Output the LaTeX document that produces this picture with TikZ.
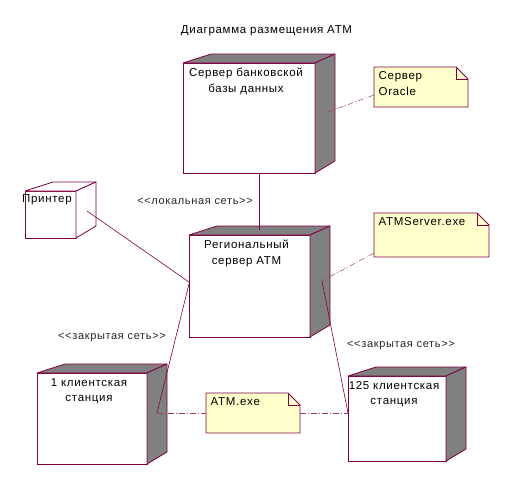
\documentclass[tikz,border=0pt]{standalone}
\usepackage{fontspec}
\setmainfont{Liberation Sans}[LetterSpace=6.0,Ligatures=TeXOff]
\usepackage{tikz}
\usetikzlibrary{calc,arrows.meta}
\definecolor{rosered}{RGB}{128,0,64}
\definecolor{rosegray}{RGB}{128,128,128}
\definecolor{noteyellow}{RGB}{255,255,204}

% top and side faces of a node box (gray unless told otherwise)
\newcommand{\boxfaces}[2][rosegray]{%
  \filldraw[fill=#1,draw=rosered,line width=0.8pt,line join=round]
    (#2.north west) -- ++(28,-9) -- ($(#2.north east)+(20,-9)$) -- (#2.north east) -- cycle;
  \filldraw[fill=#1,draw=rosered,line width=0.8pt,line join=round]
    (#2.north east) -- ++(20,-9) -- ($(#2.south east)+(20,-12)$) -- (#2.south east) -- cycle;
}
% note with folded corner
\newcommand{\notefold}[1]{%
  \filldraw[fill=noteyellow,draw=rosered,line width=0.8pt]
    (#1.north west) -- ($(#1.north east)+(-12,0)$) -- ($(#1.north east)+(0,12)$)
    -- (#1.south east) -- (#1.south west) -- cycle;
  \draw[rosered,line width=0.6pt] ($(#1.north east)+(-12,0)$) |- ($(#1.north east)+(0,12)$);
}

\begin{document}
\begin{tikzpicture}[x=1pt,y=-1pt,>=Stealth,
    nodebox/.style={draw=rosered,line width=1pt,fill=white,inner sep=0pt,outer sep=0pt},
    nodetext/.style={anchor=north,align=center,inner sep=5pt,xshift=-3pt,
      font=\fontsize{11.5}{15.5}\selectfont},
    notebox/.style={inner sep=0pt,outer sep=0pt},
    notetext/.style={anchor=north west,align=left,inner sep=4.5pt,
      font=\fontsize{11.5}{15.5}\selectfont},
    netlabel/.style={anchor=base,inner sep=0pt,text=black!85,font=\fontsize{11}{13}\selectfont},
    link/.style={rosered,line width=0.6pt},
    notelink/.style={rosered!75,line width=0.5pt,dash pattern=on 6pt off 2pt on 1pt off 2pt}]
    \useasboundingbox (0,0) rectangle (515,488);

    % Title
    \node[anchor=base,inner sep=0pt,font=\fontsize{11.5}{14}\selectfont] (title) at (266.5,33)
      {Диаграмма размещения ATM};

    % Nodes
    \node[nodebox,minimum width=132pt,minimum height=110pt] (db) at (249,118) {};
    \boxfaces{db}
    \node[nodetext] (dbtext) at (db.north) {Сервер банковской\\базы данных};

    \node[nodebox,minimum width=51pt,minimum height=47pt] (prn) at (50.5,214.5) {};
    \boxfaces[white]{prn}
    \node[nodetext,anchor=north west,inner sep=0pt,xshift=0pt] (prntext)
      at ($(prn.north west)+(0,3.5)$) {Принтер};

    \node[nodebox,minimum width=121pt,minimum height=102pt] (reg) at (249.5,286) {};
    \boxfaces{reg}
    \node[nodetext] (regtext) at (reg.north) {Региональный\\сервер ATM};

    \node[nodebox,minimum width=110pt,minimum height=91pt] (cl1) at (92,418.5) {};
    \boxfaces{cl1}
    \node[nodetext] (cl1text) at (cl1.north) {1 клиентская\\станция};

    \node[nodebox,minimum width=98pt,minimum height=85pt] (cl125) at (397,418.5) {};
    \boxfaces{cl125}
    \node[nodetext] (cl125text) at (cl125.north) {125 клиентская\\станция};

    % Notes
    \node[notebox,minimum width=94pt,minimum height=40pt] (ora) at (421,87) {};
    \notefold{ora}
    \node[notetext] (oratext) at (ora.north west) {Сервер\\Oracle};

    \node[notebox,minimum width=115pt,minimum height=44pt] (srvexe) at (431.5,235) {};
    \notefold{srvexe}
    \node[notetext] (srvexetext) at (srvexe.north west) {ATMServer.exe};

    \node[notebox,minimum width=94pt,minimum height=40pt] (atmexe) at (253,413) {};
    \notefold{atmexe}
    \node[notetext] (atmexetext) at (atmexe.north west) {ATM.exe};

    % Link end points
    \coordinate (dbbot) at ($(db.south)+(10,0)$);
    \coordinate (regtop) at ($(reg.north)+(9.5,-5)$);
    \coordinate (prnin) at (87,211);
    \coordinate (regleftA) at ($(reg.west)+(0,-4)$);
    \coordinate (regleftB) at ($(reg.west)+(0,-2)$);
    \coordinate (regright) at (322,281);
    \coordinate (cl1side) at (157,413);
    \coordinate (cl125side) at (cl125.west |- atmexe.east);
    \coordinate (dbside) at (325,113);

    % Connections
    \draw[link] (dbbot) -- (regtop);
    \draw[link] (prnin) -- (regleftA);
    \draw[link] (regleftB) -- (cl1side);
    \draw[link] (regright) -- (cl125side);
    \draw[notelink] (cl1side) -- (atmexe.west);
    \draw[notelink] (atmexe.east) -- (cl125side);
    \draw[notelink] ($(srvexe.south west)+(0,-4)$) -- (regright);
    \draw[notelink] ($(ora.south west)+(0,-12)$) -- (dbside);

    % Link labels
    \node[netlabel] (lanlbl) at (195,204) {<<локальная сеть>>};
    \node[netlabel] (wanlbl1) at (112,339) {<<закрытая сеть>>};
    \node[netlabel] (wanlbl2) at (401,347.5) {<<закрытая сеть>>};
\end{tikzpicture}
\end{document}
